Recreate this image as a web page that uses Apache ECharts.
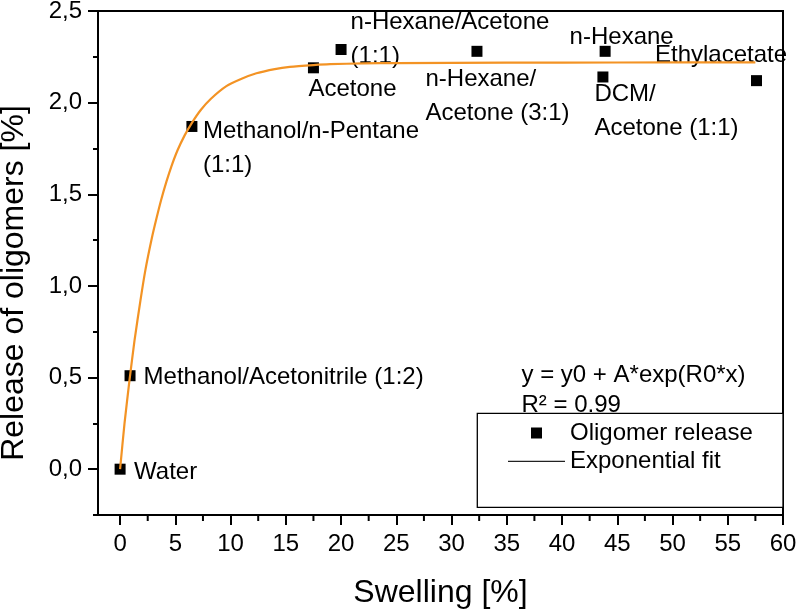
<!DOCTYPE html>
<html>
<head>
<meta charset="utf-8">
<script src="https://cdn.jsdelivr.net/npm/echarts/dist/echarts.min.js"></script>
<style>
  html, body { margin: 0; padding: 0; background: #fff; }
  #chart { width: 799px; height: 610px; }
</style>
</head>
<body>
<div id="chart"></div>
<script>
// ---- data ----
const categories = [
  'Water',
  'Methanol/Acetonitrile (1:2)',
  'Methanol/n-Pentane\n(1:1)',
  'Acetone',
  'n-Hexane/Acetone\n(1:1)',
  'n-Hexane/\nAcetone (3:1)',
  'n-Hexane',
  'DCM/\nAcetone (1:1)',
  'Ethylacetate'
];
const swelling = [0, 0.9, 6.5, 17.5, 20.0, 32.3, 43.9, 43.7, 57.6];
const release  = [0, 0.51, 1.87, 2.19, 2.29, 2.28, 2.28, 2.14, 2.12];

// exponential fit curve
const fitX = [0, 0.4, 0.84, 1.3, 1.84, 2.3, 2.87, 3.3, 3.72, 4.2, 4.63, 5.2, 5.83, 6.5, 7.3, 8.2, 9.62, 11, 12.34, 14, 15.36, 17.5, 19, 22, 25, 35, 45, 57.5];
const fitY = [0, 0.25, 0.48, 0.70, 0.92, 1.09, 1.26, 1.37, 1.47, 1.57, 1.65, 1.74, 1.82, 1.89, 1.96, 2.02, 2.09, 2.13, 2.16, 2.183, 2.195, 2.205, 2.21, 2.214, 2.216, 2.218, 2.219, 2.22];

const xTicks = [0, 5, 10, 15, 20, 25, 30, 35, 40, 45, 50, 55, 60];
const xTickLabels = ['0', '5', '10', '15', '20', '25', '30', '35', '40', '45', '50', '55', '60'];
const xMinorTicks = [2.5, 7.5, 12.5, 17.5, 22.5, 27.5, 32.5, 37.5, 42.5, 47.5, 52.5, 57.5];
const yTicks = [0, 0.5, 1.0, 1.5, 2.0, 2.5];
const yTickLabels = ['0,0', '0,5', '1,0', '1,5', '2,0', '2,5'];
const yMinorStep = 0.25;

const seriesNames = ['Oligomer release', 'Exponential fit'];
const equationLines = ['y = y0 + A*exp(R0*x)', 'R\u00B2 = 0.99'];

// ---- layout (label placement relative to each point, px) ----
const labelOffsets = {
  'Water': [14, -14],
  'Methanol/Acetonitrile (1:2)': [13.5, -15.5],
  'Methanol/n-Pentane\n(1:1)': [11, -12],
  'Acetone': [-5, 4.5],
  'n-Hexane/Acetone\n(1:1)': [9.5, -44.5],
  'n-Hexane/\nAcetone (3:1)': [-51.5, 11.5],
  'n-Hexane': [-35.5, -30.5],
  'DCM/\nAcetone (1:1)': [-8.5, 0.5],
  'Ethylacetate': [-101.5, -42]
};

const FONT = '"Liberation Sans", Arial, Helvetica, sans-serif';
const ORANGE = '#f39324';
const X_MIN = -2, X_MAX = 60, Y_MIN = -0.25, Y_MAX = 2.5;
const G = { left: 98, right: 16, top: 11, bottom: 95, outerBoundsMode: 'none', containLabel: false };

const scatterData = categories.map((name, i) => ({
  name: name,
  value: [swelling[i], release[i]]
}));
const fitData = fitX.map((x, i) => [x, fitY[i]]);
const xMinorData = xMinorTicks.map(v => [v, Y_MIN]);

const chart = echarts.init(document.getElementById('chart'), null, { renderer: 'canvas' });

const option = {
  animation: false,
  backgroundColor: '#fff',
  textStyle: { fontFamily: FONT },
  grid: [
    Object.assign({ show: true, borderColor: '#000', borderWidth: 2, backgroundColor: 'transparent' }, G),
    Object.assign({ show: false }, G)
  ],
  xAxis: [
    {
      gridIndex: 0, type: 'value', min: X_MIN, max: X_MAX, position: 'bottom',
      name: 'Swelling [%]', nameLocation: 'middle', nameGap: 62,
      nameTextStyle: { fontSize: 32, color: '#000', fontFamily: FONT },
      axisLine: { show: true, onZero: false, lineStyle: { color: '#000', width: 2 } },
      axisTick: { show: true, customValues: xTicks, length: 10, lineStyle: { color: '#000', width: 2 } },
      axisLabel: {
        customValues: xTicks, margin: 17, fontSize: 24, color: '#000', fontFamily: FONT,
        formatter: v => { const k = xTicks.indexOf(v); return k >= 0 ? xTickLabels[k] : ''; }
      },
      splitLine: { show: false }
    },
    {
      gridIndex: 1, type: 'value', min: X_MIN, max: X_MAX, position: 'bottom', show: false
    }
  ],
  yAxis: [
    {
      gridIndex: 0, type: 'value', min: Y_MIN, max: Y_MAX, position: 'left',
      name: 'Release of oligomers [%]', nameLocation: 'middle', nameGap: 68, nameRotate: 90,
      nameTextStyle: { fontSize: 32, color: '#000', fontFamily: FONT, padding: [0, 40, 0, 0] },
      axisLine: { show: true, onZero: false, lineStyle: { color: '#000', width: 2 } },
      axisTick: { show: true, customValues: yTicks, length: 10, lineStyle: { color: '#000', width: 2 } },
      axisLabel: {
        customValues: yTicks, margin: 16, fontSize: 24, color: '#000', fontFamily: FONT,
        formatter: v => { const k = yTicks.findIndex(t => Math.abs(t - v) < 1e-9); return k >= 0 ? yTickLabels[k] : ''; }
      },
      splitLine: { show: false }
    },
    {
      gridIndex: 1, type: 'value', min: Y_MIN, max: Y_MAX, interval: yMinorStep, position: 'left',
      axisLine: { show: false, onZero: false },
      axisTick: { show: true, length: 5, lineStyle: { color: '#000', width: 2 } },
      axisLabel: { show: false },
      splitLine: { show: false }
    }
  ],
  legend: {
    orient: 'vertical', left: 508, top: 421, padding: 0,
    itemWidth: 57, itemHeight: 11, itemGap: 4.4, itemTextGap: 7,
    symbolKeepAspect: true,
    textStyle: { fontSize: 24, lineHeight: 24, color: '#000', fontFamily: FONT },
    data: [
      { name: seriesNames[0], icon: 'path://M0,0H10V10H0Z', itemStyle: { color: '#000', opacity: 1 } },
      { name: seriesNames[1], icon: 'path://M0,0H100V2.3H0Z', itemStyle: { color: '#222', opacity: 1, borderWidth: 0 } }
    ],
    z: 10
  },
  graphic: [
    {
      type: 'text', left: 521.5, top: 363, z: 1,
      style: { text: equationLines[0], fontSize: 24, fontFamily: FONT, fill: '#000' }
    },
    {
      type: 'text', left: 521.5, top: 393, z: 1,
      style: { text: equationLines[1], fontSize: 24, fontFamily: FONT, fill: '#000' }
    },
    {
      type: 'rect', z: 5,
      shape: { x: 477.3, y: 413.3, width: 305.7, height: 94 },
      style: { fill: '#fff', stroke: '#000', lineWidth: 1.3 }
    }
  ],
  series: [
    {
      name: seriesNames[0], type: 'scatter', xAxisIndex: 0, yAxisIndex: 0,
      symbol: 'rect', symbolSize: 11,
      itemStyle: { color: '#000', opacity: 1 },
      label: {
        show: true, position: 'inside', align: 'left', verticalAlign: 'top',
        formatter: p => p.name,
        fontSize: 24, lineHeight: 34, color: '#000', opacity: 1, fontFamily: FONT,
        textBorderWidth: 0
      },
      labelLayout: params => {
        const off = labelOffsets[categories[params.dataIndex]] || [0, 0];
        return { dx: off[0], dy: off[1], hideOverlap: false };
      },
      emphasis: { disabled: true },
      data: scatterData,
      z: 2
    },
    {
      name: seriesNames[1], type: 'line', xAxisIndex: 0, yAxisIndex: 0,
      showSymbol: false, symbol: 'none', smooth: 0.2,
      lineStyle: { color: ORANGE, width: 2.2 },
      itemStyle: { color: ORANGE },
      emphasis: { disabled: true },
      data: fitData,
      z: 3
    },
    {
      // minor ticks of the x axis, placed through the axis scale
      name: 'x minor ticks', type: 'custom', xAxisIndex: 0, yAxisIndex: 0,
      clip: false, silent: true, z: 4,
      encode: { x: 0, y: 1 },
      renderItem: (params, api) => {
        const p = api.coord([api.value(0), api.value(1)]);
        return {
          type: 'line',
          shape: { x1: p[0], y1: p[1], x2: p[0], y2: p[1] + 6 },
          style: { stroke: '#000', lineWidth: 2 }
        };
      },
      data: xMinorData
    }
  ]
};
chart.setOption(option);
</script>
</body>
</html>
